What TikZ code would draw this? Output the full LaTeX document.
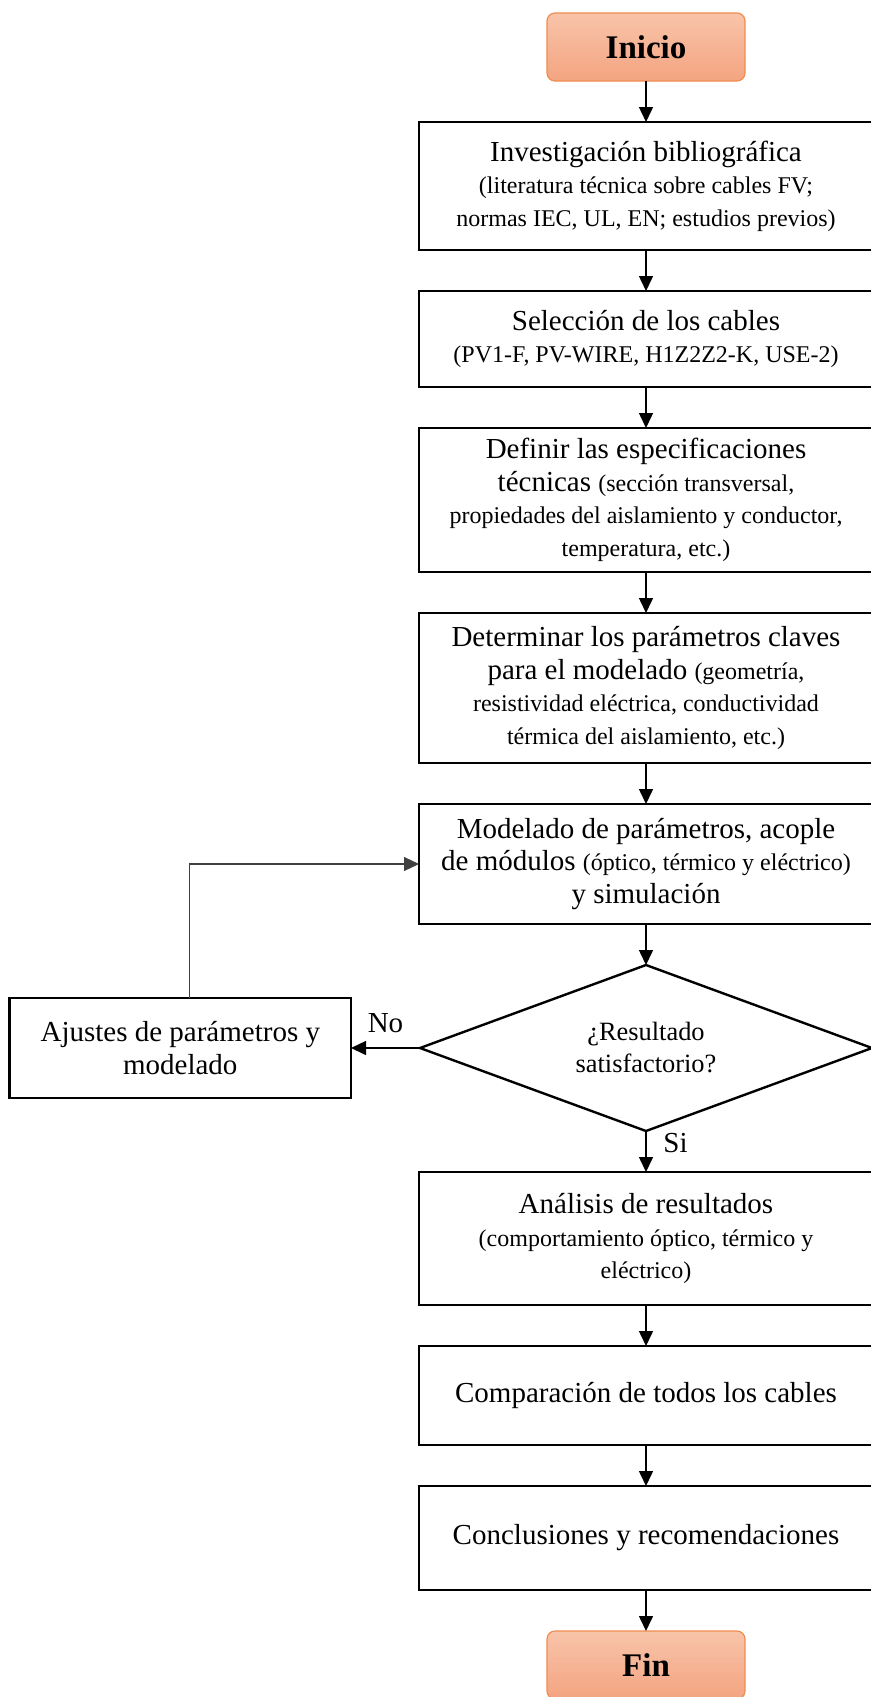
\documentclass[tikz,border=0pt]{standalone}
\usepackage{fontspec}
\setmainfont{Liberation Serif}
\usetikzlibrary{shapes.geometric,arrows.meta,positioning}
\definecolor{termtop}{RGB}{248,196,170}
\definecolor{termbot}{RGB}{244,164,128}
\definecolor{termline}{RGB}{240,140,80}
\newcommand{\sm}[1]{{\fontsize{12}{16.3}\selectfont #1}}

\begin{document}
\begin{tikzpicture}[
  node distance=20.5pt,
  term/.style={rectangle, rounded corners=4pt, draw=termline, line width=0.6pt,
               top color=termtop, bottom color=termbot, outer sep=0pt,
               minimum width=99pt, minimum height=34pt,
               font=\fontsize{16.5}{18}\selectfont\bfseries},
  proc/.style={rectangle, draw=black, line width=1.3pt, outer sep=0pt,
               minimum width=227pt, align=center,
               font=\fontsize{14.5}{16.3}\selectfont},
  decision/.style={diamond, draw=black, line width=1.2pt, outer sep=0pt,
               minimum width=226pt, minimum height=83pt, inner sep=0pt,
               aspect=2.72, align=center,
               font=\fontsize{13.2}{16}\selectfont},
  lbl/.style={font=\fontsize{14.5}{16}\selectfont},
  arrow/.style={-{Triangle[width=7pt,length=7.5pt]}, line width=0.75pt, black},
  loopback/.style={-{Triangle[width=7pt,length=7.5pt]}, line width=0.6pt, black!75}
]
\useasboundingbox (0,0) rectangle (435.5pt,-848.5pt);
\clip (0,0) rectangle (435.5pt,-848.5pt);

% Main column
\node[term] (ini) at (323pt,-23.5pt) {Inicio};
\node[proc, below=of ini, minimum height=64pt] (p1)
  {Investigación bibliográfica\\
   \sm{(literatura técnica sobre cables FV;}\\
   \sm{normas IEC, UL, EN; estudios previos)}};
\node[proc, below=of p1, minimum height=48pt] (p2)
  {Selección de los cables\\
   \sm{(PV1-F, PV-WIRE, H1Z2Z2-K, USE-2)}};
\node[proc, below=of p2, minimum height=72pt] (p3)
  {Definir las especificaciones\\
   técnicas \sm{(sección transversal,}\\
   \sm{propiedades del aislamiento y conductor,}\\
   \sm{temperatura, etc.)}};
\node[proc, below=of p3, minimum height=75pt] (p4)
  {Determinar los parámetros claves\\
   para el modelado \sm{(geometría,}\\
   \sm{resistividad eléctrica, conductividad}\\
   \sm{térmica del aislamiento, etc.)}};
\node[proc, below=of p4, minimum height=60pt] (p5)
  {Modelado de parámetros, acople\\
   de módulos \sm{(óptico, térmico y eléctrico)}\\
   y simulación};
\node[decision, below=of p5] (dec) {¿Resultado\\ satisfactorio?};
\node[proc, below=of dec, minimum height=66.5pt] (p6)
  {Análisis de resultados\\
   \sm{(comportamiento óptico, térmico y}\\
   \sm{eléctrico)}};
\node[proc, below=of p6, minimum height=49.5pt] (p7) {Comparación de todos los cables};
\node[proc, below=of p7, minimum height=52pt] (p8) {Conclusiones y recomendaciones};
\node[term, below=of p8] (fin) {Fin};

% Adjustment box to the left
\node[proc, left=34.5pt of dec, minimum width=170.7pt, minimum height=50pt] (aj)
  {Ajustes de parámetros y\\ modelado};

% Main arrows
\draw[arrow] (ini) -- (p1);
\draw[arrow] (p1) -- (p2);
\draw[arrow] (p2) -- (p3);
\draw[arrow] (p3) -- (p4);
\draw[arrow] (p4) -- (p5);
\draw[arrow] (p5) -- (dec);
\draw[arrow] (dec) -- (p6) node[lbl, pos=0.3, right, xshift=5pt] {Si};
\draw[arrow] (p6) -- (p7);
\draw[arrow] (p7) -- (p8);
\draw[arrow] (p8) -- (fin);

% Decision branch and loop-back
\draw[arrow] (dec.west) -- (aj.east) node[lbl, midway, above=4pt] {No};
\draw[loopback] ([xshift=4.5pt]aj.north) |- (p5.west);

\end{tikzpicture}
\end{document}
